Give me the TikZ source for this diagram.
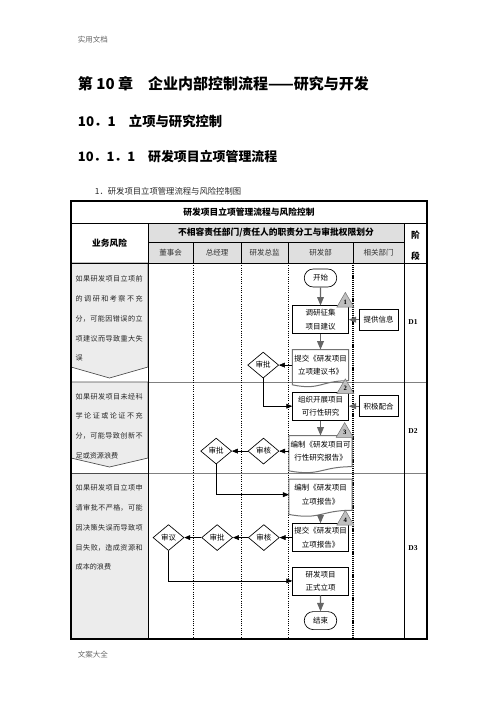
\documentclass[tikz,border=0pt]{standalone}
\usepackage{fontspec}
\setmainfont{Noto Sans CJK SC}
\newfontfamily\latinfont{Liberation Serif}
\usepackage{tikz}
\usetikzlibrary{positioning, calc, arrows, shapes}
\XeTeXlinebreaklocale "zh"
\XeTeXlinebreakskip=0pt plus 3pt
\tikzset{>=triangle 45}
\tikzset{process box/.style={draw, line width=0.8pt, minimum width=67.2pt, minimum height=33.6pt, inner sep=1pt, align=center, font=\fontsize{9}{16}\selectfont}}
\tikzset{support box/.style={process box, minimum width=46.8pt, minimum height=25.2pt}}
\tikzset{document box/.style={minimum width=67.2pt, minimum height=37pt, inner sep=1pt, align=center, font=\fontsize{9}{16}\selectfont}}
\tikzset{decision/.style={diamond, draw, line width=0.8pt, minimum width=37.2pt, minimum height=31.2pt, inner sep=0pt, font=\fontsize{9}{10}\selectfont}}
\tikzset{terminal/.style={rounded rectangle, draw, line width=0.8pt, minimum width=41pt, minimum height=21.6pt, inner sep=1pt, font=\fontsize{9}{10}\selectfont}}
\tikzset{risk point/.style={regular polygon, regular polygon sides=3, draw=black!55, fill=black!25, line width=0.6pt, minimum size=23.5pt, inner sep=0pt, anchor=side 2, font=\latinfont\bfseries\fontsize{8}{8}\selectfont}}
\tikzset{risk text/.style={anchor=north west, inner sep=0pt, text width=80.4pt, align=justify, text=black!85, font=\fontsize{8.5}{23.8}\selectfont}}
\tikzset{risk cell/.style={draw=black!70, line width=0.8pt, fill=gray!15}}
\tikzset{head text/.style={font=\bfseries\fontsize{10.5}{12}\selectfont}}
\tikzset{lane head/.style={text=black!80, font=\fontsize{9}{10}\selectfont}}
\tikzset{stage label/.style={font=\latinfont\bfseries\fontsize{9}{10}\selectfont}}
\tikzset{main flow/.style={draw=black!60, line width=1.3pt, ->}}
\tikzset{side flow/.style={draw=black, line width=0.6pt, ->}}
\tikzset{input flow/.style={draw=black!60, line width=1pt, dashed, ->}}
\tikzset{doc outline/.style={draw=black!55, line width=1.2pt}}
\newcommand{\docframe}[1]{\draw[doc outline] (#1.north west) -- (#1.north east) -- (#1.south east) .. controls (#1.south) and ([yshift=-12pt]#1.south) .. ([yshift=-5pt]#1.south west) -- cycle;}

\begin{document}
\begin{tikzpicture}[x=1.2pt, y=-1.2pt]
    \useasboundingbox (0,0) rectangle (496,702);

    \node[anchor=west, text=black!60, font=\fontsize{9}{10}\selectfont] (page-head) at (75,40) {实用文档};
    \node[anchor=west, font=\bfseries\fontsize{18}{20}\selectfont] (chapter) at (75,84) {第 10 章\hspace{1em}企业内部控制流程——研究与开发};
    \node[anchor=west, font=\bfseries\fontsize{16}{18}\selectfont] (section) at (75,121) {10．1　立项与研究控制};
    \node[anchor=west, font=\bfseries\fontsize{15.5}{18}\selectfont] (subsection) at (75,157) {10．1．1　研发项目立项管理流程};
    \node[anchor=west, text=black!85, font=\fontsize{10}{12}\selectfont] (caption) at (92,191) {1．研发项目立项管理流程与风险控制图};
    \node[anchor=west, text=black!60, font=\fontsize{9}{10}\selectfont] (page-foot) at (75,655) {文案大全};

    \fill[gray!25] (148,223) rectangle (404,263);
    \draw[black!50, line width=0.5pt] (71,382) -- (427,382);
    \draw[black!50, line width=0.5pt] (71,473) -- (427,473);
    \draw[risk cell] (71,263) -- (148,263) -- (148,367) -- (109.5,378) -- (71,367) -- cycle;
    \draw[risk cell] (71,382) -- (148,382) -- (148,458) -- (109.5,467) -- (71,458) -- cycle;
    \draw[risk cell] (71,473) rectangle (148,639);

    \foreach \x in {193,241,288}
        \draw[dotted, line width=0.7pt] (\x,263) -- (\x,639);
    \draw[densely dotted, line width=1.3pt] (353,263) -- (353,639);
    \foreach \x in {193,241,288,353}
        \draw[line width=0.6pt] (\x,242) -- (\x,263);
    \draw[line width=0.6pt] (148,242) -- (404,242);
    \draw[line width=0.6pt] (404,223) -- (404,639);
    \draw[line width=0.8pt] (71,223) -- (427,223);
    \draw[line width=1.2pt] (71,263) -- (427,263);
    \draw[line width=1.2pt] (148,223) -- (148,639);
    \draw[line width=1.6pt] (71,201) rectangle (427,639);

    \node[head text] (table-title) at (249,212) {研发项目立项管理流程与风险控制};
    \node[head text] (duty-head) at (276,232.5) {不相容责任部门/责任人的职责分工与审批权限划分};
    \node[head text] (risk-head) at (109.5,243) {业务风险};
    \node[head text, align=center, font=\bfseries\fontsize{10.5}{25}\selectfont] (stage-head) at (415.5,246) {阶\\段};
    \foreach \name/\x [count=\i] in {董事会/170.5, 总经理/217, 研发总监/264.5, 研发部/320.5, 相关部门/378.5}
        \node[lane head] (lane-\i) at (\x,252.5) {\name};

    \node[risk text] (risk-1) at (75.5,275.5) {如果研发项目立项前\linebreak 的调研和考察不充\linebreak 分，可能因错误的立\linebreak 项建议而导致重大失\linebreak 误};
    \node[risk text] (risk-2) at (75.5,393) {如果研发项目未经科\linebreak 学论证或论证不充\linebreak 分，可能导致创新不\linebreak 足或资源浪费};
    \node[risk text] (risk-3) at (75.5,484.5) {如果研发项目立项申\linebreak 请审批不严格，可能\linebreak 因决策失误而导致项\linebreak 目失败，造成资源和\linebreak 成本的浪费};

    \node[stage label] (stage-1) at (413,322) {D1};
    \node[stage label] (stage-2) at (413,431) {D2};
    \node[stage label] (stage-3) at (413,548) {D3};

    \node[terminal] (start) at (320.5,278) {开始};
    \node[process box, below=21.6pt of start] (survey) {调研征集\\项目建议};
    \node[support box, right=12pt of survey] (info) {提供信息};
    \node[document box, below=18.6pt of survey] (proposal) {提交《研发项目\\立项建议书》};
    \node[decision, left=16pt of proposal] (approve-a) {审批};
    \node[process box, below=13.4pt of proposal] (study) {组织开展项目\\可行性研究};
    \node[support box, right=12pt of study] (assist) {积极配合};
    \node[document box, minimum width=75.6pt, below=18pt of study] (feasibility) {编制《研发项目可\\行性研究报告》};
    \node[decision, left=11.4pt of feasibility] (check-b) {审核};
    \node[decision, left=18.8pt of check-b] (approve-b) {审批};
    \node[document box, minimum width=75.6pt, below=14.9pt of feasibility] (report) {编制《研发项目\\立项报告》};
    \node[process box, below=15.6pt of report] (submit) {提交《研发项目\\立项报告》};
    \node[decision, left=15pt of submit] (check-c) {审核};
    \node[decision, left=18pt of check-c] (approve-c) {审批};
    \node[decision, left=20.4pt of approve-c] (review-c) {审议};
    \node[process box, below=17.6pt of submit] (launch) {研发项目\\正式立项};
    \node[terminal, below=19.2pt of launch] (finish) {结束};

    \docframe{proposal}
    \docframe{feasibility}
    \docframe{report}

    \node[risk point] (mark-1) at ([shift={(-3.5,2)}]survey.north east) {1};
    \node[risk point] (mark-2) at ([shift={(-3.5,2)}]study.north east) {2};
    \node[risk point] (mark-3) at ([shift={(-7.5,2)}]feasibility.north east) {3};
    \node[risk point] (mark-4) at ([shift={(-3.5,2)}]submit.north east) {4};

    \draw[main flow] (start) -- (survey);
    \draw[input flow] (info) -- (survey);
    \draw[main flow] (survey) -- (proposal);
    \draw[side flow] (proposal) -- (approve-a);
    \draw[side flow] (approve-a) |- (study);
    \draw[input flow] (assist) -- (study);
    \draw[main flow] (study) -- (feasibility);
    \draw[side flow] (feasibility) -- (check-b);
    \draw[side flow] (check-b) -- (approve-b);
    \draw[side flow] (approve-b) |- (report);
    \draw[main flow] ([yshift=-5pt]report.south) -- (submit);
    \draw[side flow] (submit) -- (check-c);
    \draw[side flow] (check-c) -- (approve-c);
    \draw[side flow] (approve-c) -- (review-c);
    \draw[side flow] (review-c) |- (launch);
    \draw[main flow] (launch) -- (finish);
\end{tikzpicture}
\end{document}
